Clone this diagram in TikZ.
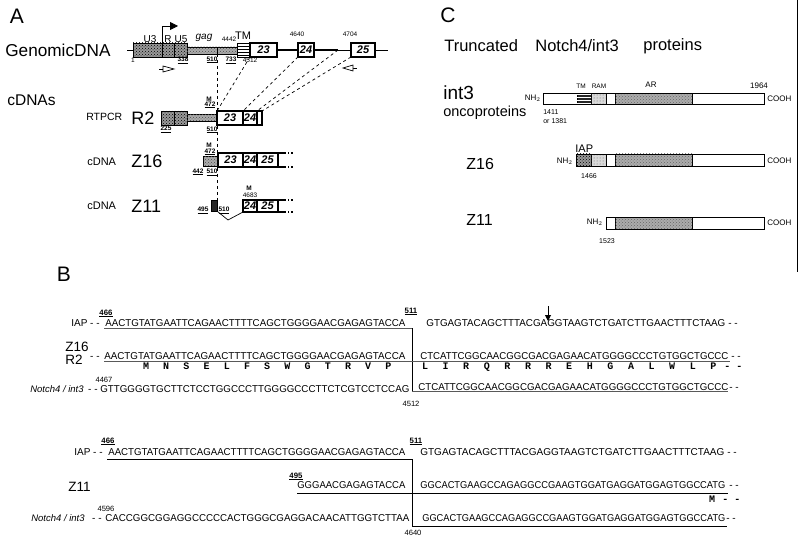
\documentclass[tikz,border=0pt]{standalone}
\usepackage{fontspec}
\usepackage{graphicx}
\setmainfont{Liberation Sans}
\setmonofont{Liberation Mono}
\usetikzlibrary{patterns,arrows.meta,positioning}
\newcommand\sz[1]{\fontsize{#1}{#1}\selectfont}
\newcommand\seqw[2]{\resizebox{#1pt}{\height}{#2}}
\tikzset{
  ltr/.style={draw,line width=0.9pt,fill=gray!80,postaction={pattern=crosshatch dots,pattern color=black}},
  gagbar/.style={draw,line width=0.8pt,fill=gray!65,postaction={pattern=crosshatch dots,pattern color=black!70}},
  tmbox/.style={draw,line width=0.9pt,fill=white,postaction={pattern=horizontal lines}},
  exon/.style={draw,line width=1.2pt,fill=white,minimum height=14pt,inner sep=0pt,outer sep=0pt,anchor=west,font=\sz{11}\bfseries\itshape},
  lab/.style={font=\sz{21},inner sep=0pt},
  txt/.style={inner sep=0pt,font=\sz{#1}},
  num/.style={inner sep=0pt,font=\sz{6.5}},
  numb/.style={inner sep=0pt,font=\sz{6.5}\bfseries},
  bnum/.style={inner sep=0pt,font=\sz{7.6},anchor=base},
  bnumb/.style={inner sep=0pt,font=\sz{7.8}\bfseries,anchor=base},
  seq/.style={font=\sz{10},anchor=base west,inner sep=0pt},
  seqr/.style={font=\sz{10},anchor=base east,inner sep=0pt},
  aa/.style={font=\sz{10}\ttfamily\bfseries,anchor=base,inner sep=0pt},
  tmprot/.style={draw,fill=black!85,postaction={pattern=horizontal lines,pattern color=white}},
  ram/.style={draw,fill=gray!30,postaction={pattern=dots,pattern color=black!60}},
  arbox/.style={draw,fill=gray!65,postaction={pattern=crosshatch dots,pattern color=black!60}},
  iap/.style={draw,fill=gray!80,postaction={pattern=crosshatch dots,pattern color=black}}
}
\begin{document}
\begin{tikzpicture}[x=1pt,y=-1pt,line width=0.7pt]
\useasboundingbox (0,0) rectangle (800,548);

\node[lab] (labA) at (17,16) {A};
\node[txt=17.2,anchor=west] (gdna) at (5,50) {GenomicDNA};
\draw (127,50) -- (388,50);
\draw[ltr] (133,43) rectangle (187,57);
\draw (162,43) -- (162,57) (174,43) -- (174,57);
\draw[gagbar] (187,47) rectangle (237,54);
\draw (217,47) -- (217,54);
\draw[tmbox] (237,43) rectangle (250,57);
\node[exon,minimum width=27pt] (g23) at (250,50) {23};
\node[exon,minimum width=16pt] (g24) at (298,50) {24};
\node[exon,minimum width=24pt] (g25) at (351,50) {25};
\coordinate (g24e) at (338,50);
\draw[line width=2.6pt] (g23.east) -- (g24.west) (g24.east) -- (g24e);
\draw[line width=0.8pt,-{Triangle[length=8pt,width=8pt]}] (162,43) -- (162,26) -- (178,26);
\node[txt=10] (u3) at (150,39) {U3};
\node[txt=10] (r) at (168,39) {R};
\node[txt=10] (u5) at (181,39) {U5};
\node[txt=10,font=\sz{10}\itshape] (gag) at (204,38) {gag};
\node[num] (n4442) at (229,39) {4442};
\node[txt=11] (tm) at (243,36) {TM};
\node[num] (n4640) at (297,34) {4640};
\node[num] (n4704) at (350,34) {4704};
\node[num] (n1) at (133,60) {1};
\node[numb] (n338) at (183,60) {\underline{338}};
\node[numb] (n510) at (212,60) {\underline{510}};
\node[numb] (n733) at (231,60) {\underline{733}};
\node[num] (n4512) at (250,60) {4512};
\draw (159,69) -- (163,69);
\draw[fill=white] (163,66) -- (174,69) -- (163,72) -- cycle;
\draw (353,68) -- (357,68);
\draw[fill=white] (353,65) -- (343,68) -- (353,71) -- cycle;

\node[txt=15.5,anchor=west] (cdnas) at (7,100) {cDNAs};
\node[txt=10.5,anchor=west] (rtpcr) at (86,117) {RTPCR};
\node[txt=18,anchor=west] (nr2) at (131,118) {R2};
\draw[ltr] (161,111) rectangle (187,125);
\draw (174,111) -- (174,125);
\draw[gagbar] (187,114) rectangle (217,121);
\node[exon,minimum width=26pt] (r23) at (217,118) {23};
\node[exon,minimum width=14pt] (r24) at (243,118) {24};
\node[exon,minimum width=5pt] (r25) at (257,118) {};
\node[numb] (rm) at (209,99) {M};
\node[numb] (r472) at (210,105) {\underline{472}};
\node[numb] (r225) at (166,129) {\underline{225}};
\node[numb] (r510) at (212,130) {\underline{510}};

\draw[dashed] (217,54) -- (217,200);
\draw[dashed] (g23.south west) -- (r23.north west);
\draw[dashed] (g24.south west) -- (r24.north west);
\draw[dashed] (g24e) -- (r25.north west);
\draw[dashed] (g25.south west) -- (r25.north east);

\node[txt=11,anchor=west] (cz16) at (87,162) {cDNA};
\node[txt=18,anchor=west] (nz16) at (131,161) {Z16};
\node[gagbar,minimum width=14pt,minimum height=10pt,inner sep=0pt] (z0) at (210,161) {};
\node[exon,minimum width=25pt] (z23) at (218,160) {23};
\node[exon,minimum width=14pt] (z24) at (243,160) {24};
\node[exon,minimum width=21pt] (z25) at (257,160) {25};
\draw[line width=1.2pt] (z25.north east) -- ++(7,0) coordinate (z16a);
\draw[line width=1.2pt] (z25.south east) -- ++(7,0) coordinate (z16b);
\draw[line width=1.2pt,dotted] (z16a) -- ++(9,0) (z16b) -- ++(9,0);
\node[numb] (zm) at (209,145) {M};
\node[numb] (z472) at (210,152) {\underline{472}};
\node[numb] (z442) at (198,172) {\underline{442}};
\node[numb] (z510) at (212,172) {\underline{510}};

\node[txt=11,anchor=west] (cz11) at (87,206) {cDNA};
\node[txt=18,anchor=west] (nz11) at (131,206) {Z11};
\node[draw,fill=black!85,minimum width=6pt,minimum height=11pt,inner sep=0pt] (y0) at (214,205.5) {};
\node[exon,minimum width=14pt,minimum height=12pt] (y24) at (243,206) {24};
\node[exon,minimum width=21pt,minimum height=12pt] (y25) at (257,206) {25};
\draw (y0.south east) -- (228,220) -- (y24.south west);
\draw[line width=1.2pt] (y25.north east) -- ++(7,0) coordinate (y11a);
\draw[line width=1.2pt] (y25.south east) -- ++(7,0) coordinate (y11b);
\draw[line width=1.2pt,dotted] (y11a) -- ++(9,0) (y11b) -- ++(9,0);
\node[numb] (y495) at (203,210) {\underline{495}};
\node[numb] (y510) at (224,210) {\underline{510}};
\node[numb] (ym) at (249,188) {M};
\node[num] (y4683) at (250,195) {4683};

\node[lab] (labC) at (448,15) {C};
\node[txt=16.5,anchor=west] (t1) at (444,46) {Truncated};
\node[txt=16.5,anchor=west] (t2) at (535,46) {Notch4/int3};
\node[txt=16.5,anchor=west] (t3) at (643,46) {proteins};
\node[txt=19,anchor=west] (int3) at (443,93) {int3};
\node[txt=14.5,anchor=west] (onco) at (443,113) {oncoproteins};
\draw[tmprot] (577,93) rectangle (591,104);
\draw[ram] (591,93) rectangle (606,104);
\draw[arbox] (615,93) rectangle (692,104);
\draw (543,93) rectangle (764,104);
\node[txt=8,anchor=east] (nh1) at (541,98) {NH$_2$};
\node[txt=8,anchor=west] (co1) at (767,99) {COOH};
\node[txt=6.5] (ptm) at (581,86) {TM};
\node[txt=6.5] (pram) at (599,86) {RAM};
\node[txt=8] (par) at (651,85) {AR};
\node[txt=8] (p1964) at (759,86) {1964};
\node[txt=7,anchor=west] (p1411) at (543,112) {1411};
\node[txt=7,anchor=west] (p1381) at (543,121) {or 1381};
\node[txt=16,anchor=west] (cz16l) at (466,164) {Z16};
\draw[iap] (576,154) rectangle (591,166);
\draw[ram] (591,154) rectangle (606,166);
\draw[arbox] (615,154) rectangle (692,166);
\draw (576,154) rectangle (764,166);
\node[txt=11,anchor=west] (piap) at (575,149) {IAP};
\node[txt=8,anchor=east] (nh2) at (573,161) {NH$_2$};
\node[txt=8,anchor=west] (co2) at (767,161) {COOH};
\node[txt=7] (p1466) at (589,176) {1466};
\node[txt=16,anchor=west] (cz11l) at (466,220) {Z11};
\draw[arbox] (615,217) rectangle (692,229);
\draw (606,217) rectangle (764,229);
\node[txt=8,anchor=east] (nh3) at (603,222) {NH$_2$};
\node[txt=8,anchor=west] (co3) at (767,223) {COOH};
\node[txt=7] (p1523) at (607,241) {1523};
\draw (797.5,0) -- (797.5,272);

\node[lab] (labB) at (64,274) {B};
\node[bnumb] (b466a) at (106,315) {\underline{466}};
\node[seqr] (iapa) at (100,326) {IAP - -};
\node[seq] (s1a) at (105,326) {\seqw{300}{AACTGTATGAATTCAGAACTTTTCAGCTGGGGAACGAGAGTACCA}};
\node[bnumb] (b511a) at (411,313) {\underline{511}};
\node[seq] (s1b) at (426,326) {\seqw{299}{GTGAGTACAGCTTTACGAGGTAAGTCTGATCTTGAACTTTCTAAG}};
\node[seq] (e1b) at (728,326) {- -};
\coordinate (cut) at (548,306);
\coordinate (cutb) at (548,321);
\draw[line width=0.9pt,-{Triangle[length=6pt,width=6pt]}] (cut) -- (cutb);
\node[txt=13.5,anchor=west] (bz16) at (65,347) {Z16};
\node[txt=13.5,anchor=west] (br2) at (65,360) {R2};
\node[seqr] (d2) at (100,359) {- -};
\node[seq] (s2a) at (104,359) {\seqw{301}{AACTGTATGAATTCAGAACTTTTCAGCTGGGGAACGAGAGTACCA}};
\node[seq] (s2b) at (420,359) {\seqw{308}{CTCATTCGGCAACGGCGACGAGAACATGGGGCCCTGTGGCTGCCC}};
\node[seq] (e2b) at (731,359) {- -};
\foreach \a [count=\i from 0] in {M,N,S,E,L,F,S,W,G,T,R,V,P}
  \node[aa] (aal\i) at (146+20.2*\i,369) {\a};
\foreach \a [count=\i from 0] in {L,I,R,Q,R,R,R,E,H,G,A,L,W,L,P}
  \node[aa] (aar\i) at (425+20.6*\i,369) {\a};
\node[aa,anchor=base west] (aad) at (724,369) {- -};
\node[bnum] (b4467) at (104,382) {4467};
\node[seqr,font=\sz{9.5}\itshape] (nt1) at (84,392) {Notch4 / int3};
\node[seqr] (d3) at (98,392) {- -};
\node[seq] (s3a) at (100,392) {\seqw{309}{GTTGGGGTGCTTCTCCTGGCCCTTGGGGCCCTTCTCGTCCTCCAG}};
\node[seq] (s3b) at (418,390) {\seqw{310}{CTCATTCGGCAACGGCGACGAGAACATGGGGCCCTGTGGCTGCCC}};
\node[seq] (e3b) at (729,390) {- -};
\node[bnum] (b4512) at (411,406) {4512};
\draw[black!65] (104,328) -- (412,328);
\draw (412,328) -- (412,391);
\draw[black!65] (412,391) -- (728,391);
\draw[black!65] (104,361) -- (730,361);

\node[bnumb] (b466b) at (108,443) {\underline{466}};
\node[seqr] (iapb) at (103,455) {IAP - -};
\node[seq] (s4a) at (108,455) {\seqw{297}{AACTGTATGAATTCAGAACTTTTCAGCTGGGGAACGAGAGTACCA}};
\node[bnumb] (b511b) at (416,443) {\underline{511}};
\node[seq] (s4b) at (420,455) {\seqw{304}{GTGAGTACAGCTTTACGAGGTAAGTCTGATCTTGAACTTTCTAAG}};
\node[seq] (e4b) at (727,455) {- -};
\node[bnumb] (b495) at (296,478) {\underline{495}};
\node[txt=13.5,anchor=west] (bz11) at (68,487) {Z11};
\node[seq] (s5a) at (297,488) {\seqw{108}{GGGAACGAGAGTACCA}};
\node[seq] (s5b) at (420,488) {\seqw{305}{GGCACTGAAGCCAGAGGCCGAAGTGGATGAGGATGGAGTGGCCATG}};
\node[seq] (e5b) at (729,488) {- -};
\node[aa] (mz) at (712,502) {M};
\node[aa,anchor=base west] (mzd) at (722,502) {- -};
\node[bnum] (b4596) at (106,511) {4596};
\node[seqr,font=\sz{9.5}\itshape] (nt2) at (85,521) {Notch4 / int3};
\node[seqr] (d6) at (102,521) {- -};
\node[seq] (s6a) at (105,521) {\seqw{304}{CACCGGCGGAGGCCCCCACTGGGCGAGGACAACATTGGTCTTAA}};
\node[seq] (s6b) at (422,521) {\seqw{303}{GGCACTGAAGCCAGAGGCCGAAGTGGATGAGGATGGAGTGGCCATG}};
\node[seq] (e6b) at (726,521) {- -};
\node[bnum] (b4640) at (413,535) {4640};
\draw (107,459) -- (412,459) -- (412,526) -- (727,526);
\draw (297,493) -- (728,493);
\end{tikzpicture}
\end{document}
